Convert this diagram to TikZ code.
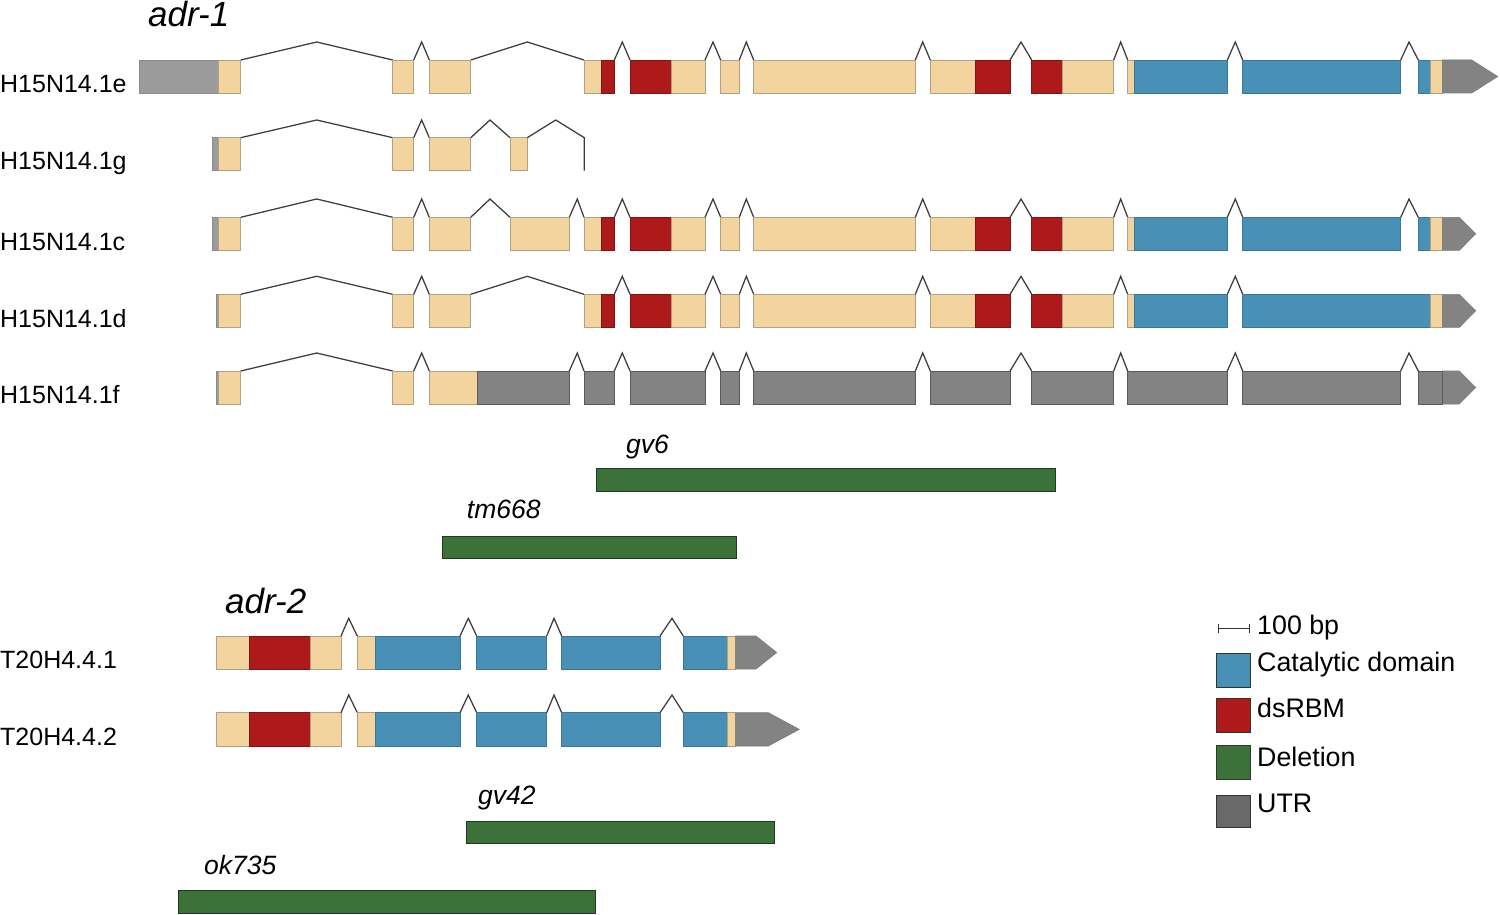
\documentclass[tikz,border=0pt]{standalone}
\usepackage{fontspec}
\setmainfont{Liberation Sans}
\definecolor{tanF}{HTML}{F3D49F}
\definecolor{tanD}{HTML}{B0A085}
\definecolor{redF}{HTML}{AD1A19}
\definecolor{redD}{HTML}{7E1414}
\definecolor{blueF}{HTML}{4890B6}
\definecolor{blueD}{HTML}{3A7898}
\definecolor{grayF}{HTML}{838383}
\definecolor{grayD}{HTML}{5A5A5A}
\definecolor{utrL}{HTML}{9B9B9B}
\definecolor{greenF}{HTML}{3C723A}
\definecolor{greenD}{HTML}{1E3A1E}
\definecolor{legU}{HTML}{696969}
\definecolor{intronC}{HTML}{3C3C3C}
\newcommand\rT{0}\newcommand\rB{0}\newcommand\rP{0}
\newcommand\setrow[3]{\renewcommand\rT{#1}\renewcommand\rB{#2}\renewcommand\rP{#3}}
\newcommand\ex[3]{\filldraw[#3] (#1,\rT) rectangle (#2,\rB);}
\newcommand\intr[3]{\draw[intron] (#1,\rT) -- (#2,\rP) -- (#3,\rT);}
\newcommand\tail[4]{\filldraw[#4] (#1,\rT) -- (#2,\rT) -- (#3,{(\rT+\rB)/2}) -- (#2,\rB) -- (#1,\rB) -- cycle;}
\newcommand\adrstart{%
  \ex{218.3}{240.7}{tanx}\intr{240.7}{316.7}{392.7}%
  \ex{392.7}{413.7}{tanx}\intr{413.7}{421.7}{429.3}}
\newcommand\adrmid{%
  \ex{584}{601.7}{tanx}\ex{601.7}{614.3}{redx}%
  \intr{614.3}{622.3}{630}%
  \ex{630}{671}{redx}\ex{671}{705}{tanx}%
  \intr{705}{713}{720.7}%
  \ex{720.7}{739.3}{tanx}%
  \intr{739.3}{746.3}{753.7}%
  \ex{753.7}{915.3}{tanx}%
  \intr{915.3}{922.7}{930.3}%
  \ex{930.3}{975.7}{tanx}\ex{975.7}{1010}{redx}%
  \intr{1010}{1021}{1031.7}%
  \ex{1031.7}{1062.7}{redx}\ex{1062.7}{1113.7}{tanx}%
  \intr{1113.7}{1120.7}{1127.7}%
  \ex{1127.7}{1134.7}{tanx}\ex{1134.7}{1227.3}{bluex}%
  \intr{1227.3}{1235.3}{1242.7}}
\newcommand\adrtwo[2]{%
  \ex{216}{249.3}{tanx}\ex{249.3}{310}{redx}\ex{310}{341}{tanx}%
  \intr{341}{348.7}{357.3}%
  \ex{357.3}{375.7}{tanx}\ex{375.7}{460}{bluex}%
  \intr{460}{468.3}{476.7}%
  \ex{476.7}{546.7}{bluex}%
  \intr{546.7}{554}{561.7}%
  \ex{561.7}{660}{bluex}%
  \intr{660}{672}{683.3}%
  \ex{683.3}{727.3}{bluex}\ex{727.3}{735.7}{tanx}%
  \tail{735.7}{#1}{#2}{arrowx}}
\begin{document}
\begin{tikzpicture}[x=1pt,y=-1pt,
  tanx/.style={fill=tanF,draw=tanD,line width=0.8pt},
  redx/.style={fill=redF,draw=redD,line width=0.6pt},
  bluex/.style={fill=blueF,draw=blueD,line width=0.6pt},
  grayx/.style={fill=grayF,draw=grayD,line width=0.8pt},
  utrx/.style={fill=utrL,draw=grayD!70,line width=0.6pt},
  arrowx/.style={fill=grayF,draw=grayD!80,line width=0.6pt},
  delx/.style={fill=greenF,draw=greenD,line width=1pt},
  intron/.style={draw=intronC,line width=1.25pt,line join=miter},
  rowlab/.style={anchor=base west,inner sep=0pt,font=\fontsize{25}{30}\selectfont},
  itlab/.style={anchor=base west,inner sep=0pt,font=\fontsize{26.5}{31}\selectfont\itshape},
  genelab/.style={anchor=base west,inner sep=0pt,font=\fontsize{35}{40}\selectfont\itshape},
  leglab/.style={anchor=base west,inner sep=0pt,font=\fontsize{26.8}{31}\selectfont},
  legbox/.style={draw=black!80,line width=0.8pt}]
\useasboundingbox (0,0) rectangle (1500,915);
\fill[white] (0,0) rectangle (1500,915);

% ---------- adr-1 ----------
\node[genelab] (adr1) at (148,27) {adr-1};

% H15N14.1e
\setrow{60}{93}{42}
\node[rowlab] (le) at (0,92.3) {H15N14.1e};
\ex{139.3}{218.3}{utrx}
\adrstart
\ex{429.3}{470.7}{tanx}\intr{470.7}{527.3}{584}
\adrmid
\ex{1242.7}{1400.7}{bluex}
\intr{1400.7}{1409}{1418.3}
\ex{1418.3}{1430.7}{bluex}\ex{1430.7}{1442.3}{tanx}
\tail{1442.3}{1471.7}{1497.7}{arrowx}

% H15N14.1g
\setrow{137.7}{170.7}{120}
\node[rowlab] (lg) at (0,170) {H15N14.1g};
\ex{212}{218.3}{utrx}
\adrstart
\ex{429.3}{470.7}{tanx}\intr{470.7}{490}{510}
\ex{510}{527.3}{tanx}
\draw[intron] (527.3,\rT) -- (555.7,\rP) -- (584.3,\rT) -- (584.3,\rB);

% H15N14.1c
\setrow{217.3}{250.3}{199}
\node[rowlab] (lc) at (0,250) {H15N14.1c};
\ex{212}{218.3}{utrx}
\adrstart
\ex{429.3}{470.7}{tanx}\intr{470.7}{490}{510}
\ex{510}{569.3}{tanx}\intr{569.3}{577.3}{584}
\adrmid
\ex{1242.7}{1400.7}{bluex}
\intr{1400.7}{1409}{1418.3}
\ex{1418.3}{1430.7}{bluex}\ex{1430.7}{1442.3}{tanx}
\tail{1442.3}{1459.3}{1475.7}{arrowx}

% H15N14.1d
\setrow{294.3}{327.3}{276.3}
\node[rowlab] (ld) at (0,327) {H15N14.1d};
\ex{216.7}{218.3}{utrx}
\adrstart
\ex{429.3}{470.7}{tanx}\intr{470.7}{527.3}{584}
\adrmid
\ex{1242.7}{1430.7}{bluex}\ex{1430.7}{1442.3}{tanx}
\tail{1442.3}{1459.3}{1475.7}{arrowx}

% H15N14.1f
\setrow{371}{404}{353}
\node[rowlab] (lf) at (0,403.5) {H15N14.1f};
\ex{216.7}{218.3}{utrx}
\adrstart
\ex{429.3}{477}{tanx}\ex{477}{569.3}{grayx}
\intr{569.3}{577.3}{584}
\ex{584}{614.3}{grayx}\intr{614.3}{622.3}{630}
\ex{630}{705}{grayx}\intr{705}{713}{720.7}
\ex{720.7}{739.3}{grayx}\intr{739.3}{746.3}{753.7}
\ex{753.7}{915.3}{grayx}\intr{915.3}{922.7}{930.3}
\ex{930.3}{1010}{grayx}\intr{1010}{1021}{1031.7}
\ex{1031.7}{1113.7}{grayx}\intr{1113.7}{1120.7}{1127.7}
\ex{1127.7}{1227.3}{grayx}\intr{1227.3}{1235.3}{1242.7}
\ex{1242.7}{1400.7}{grayx}\intr{1400.7}{1409}{1418.3}
\ex{1418.3}{1442.3}{grayx}
\tail{1442.3}{1459.3}{1475.7}{arrowx}
\draw[grayD,line width=1pt] (1442.3,\rT) -- (1442.3,\rB);

% deletions adr-1
\node[itlab] (gv6) at (626,453) {gv6};
\filldraw[delx] (596,468.3) rectangle (1055,491);
\node[itlab] (tm668) at (466.7,518.3) {tm668};
\filldraw[delx] (442.3,536) rectangle (736,558.3);

% ---------- adr-2 ----------
\node[genelab] (adr2) at (225,613) {adr-2};
\setrow{636}{669}{618.3}
\node[rowlab] (t1) at (0,668.5) {T20H4.4.1};
\adrtwo{756}{776.7}
\setrow{712.7}{746}{695}
\node[rowlab] (t2) at (0,745) {T20H4.4.2};
\adrtwo{768.3}{799.3}

% deletions adr-2
\node[itlab] (gv42) at (478,804) {gv42};
\filldraw[delx] (466.5,821) rectangle (774,843.5);
\node[itlab] (ok735) at (204,874) {ok735};
\filldraw[delx] (178.5,890.5) rectangle (595,913);

% ---------- legend ----------
\draw[black!80,line width=1pt] (1218.3,628.3) -- (1249,628.3)
  (1218.3,623.5) -- (1218.3,633) (1249,623.5) -- (1249,633);
\node[leglab] (lbp) at (1257,634.3) {100 bp};
\filldraw[legbox,fill=blueF] (1216.7,653.3) rectangle (1250.7,687.3);
\node[leglab] (lcat) at (1257,671.7) {Catalytic domain};
\filldraw[legbox,fill=redF] (1216.7,698.3) rectangle (1250.7,732);
\node[leglab] (lds) at (1257,717.3) {dsRBM};
\filldraw[legbox,fill=greenF] (1216.7,745.7) rectangle (1250.7,779);
\node[leglab] (ldel) at (1257,766) {Deletion};
\filldraw[legbox,fill=legU] (1216.7,795) rectangle (1250.7,827.7);
\node[leglab] (lutr) at (1257,812.7) {UTR};
\end{tikzpicture}
\end{document}
